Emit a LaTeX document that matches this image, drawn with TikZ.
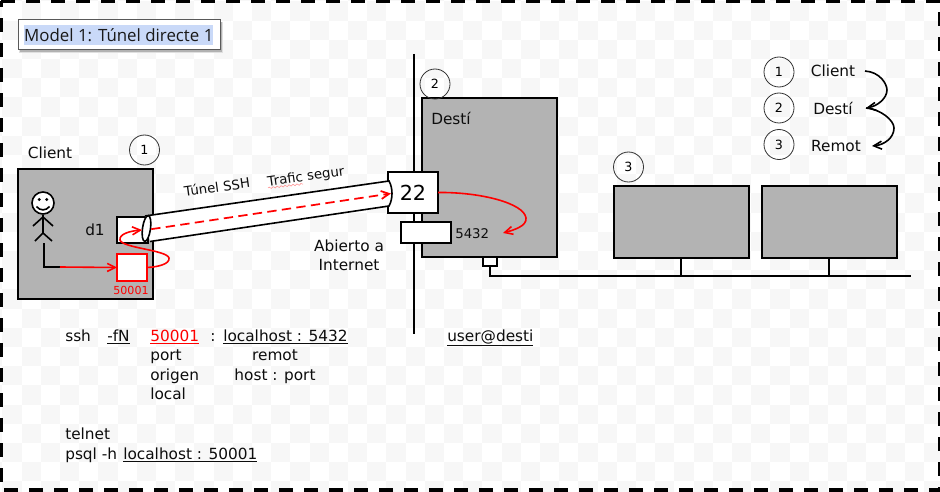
\documentclass[tikz,border=0pt]{standalone}
\usepackage{fontspec}
\setmainfont{DejaVu Sans}
\newfontfamily\titlefont{Open Sans}
\usetikzlibrary{arrows.meta,decorations.pathmorphing,shapes.geometric,shadows}
\definecolor{boxgrey}{HTML}{B3B3B3}
\definecolor{checker}{HTML}{F7F7F7}
\definecolor{hilite}{HTML}{C9D9F8}
\tikzset{
  x=0.75pt,y=-0.75pt,
  box/.style={draw=black,line width=1.2pt,fill=boxgrey,inner sep=0pt,outer sep=0pt},
  wbox/.style={draw=black,line width=1.2pt,fill=white,inner sep=0pt,outer sep=0pt},
  lab/.style={inner sep=0pt,font=\fontsize{11.5}{13}\selectfont,text=black!95},
  cmd/.style={lab,anchor=base west},
  small/.style={lab,font=\fontsize{8.3}{10}\selectfont},
  num/.style={draw=black!80,circle,line width=0.6pt,minimum size=22.5pt,inner sep=0pt,font=\fontsize{9.5}{11}\selectfont},
  wire/.style={draw=black,line width=1.2pt},
  redflow/.style={draw=red,line width=1.2pt,-{Straight Barb[length=6pt,width=6pt]}},
  blackflow/.style={draw=black,line width=1.2pt,-{Straight Barb[length=6pt,width=6pt]}},
}
\begin{document}
\begin{tikzpicture}
\useasboundingbox (0,0) rectangle (940,492);
\fill[white] (0,0) rectangle (940,492);
% faint checker pattern of the source canvas
\begin{scope}
\clip (0,0) rectangle (940,492);
\foreach \i in {0,...,49}{\foreach \j in {0,...,26}{
  \pgfmathtruncatemacro{\k}{mod(\i+\j,2)}
  \ifnum\k=1
    \fill[checker] ({2.3+19.2*(\i-1)},{1.4+19.2*(\j-1)}) rectangle ++(19.2,19.2);
  \fi}}
% page frame
\draw[black,line width=3pt,dash pattern=on 10.5pt off 8.25pt] (1,1) -- (940,1) -- (940,490) -- (1,490) -- cycle;
\end{scope}

% title
\fill[black!12] (19,22) rectangle (223,53);
\fill[black!30] (20,22) rectangle (222,52);
\node[draw=black!65,line width=0.75pt,fill=white,minimum width=151.5pt,minimum height=22.5pt,inner sep=0pt] (title) at (119,35) {};
\node[fill=hilite,inner sep=0pt,minimum width=140.5pt,minimum height=15pt,font=\titlefont\fontsize{12.65}{14}\selectfont,text=black!90] (titletext) at (118.8,35) {Model 1: Túnel directe 1};

% vertical line
\coordinate (fwtop) at (414,54);
\coordinate (fwbot) at (414,334);
\draw[wire] (fwtop) -- (fwbot);

% client
\node[box,minimum width=101.25pt,minimum height=97.5pt] (client) at (85.5,234) {};
\node[lab] (clientlab) at (50,153) {Client};
\node[num] (n1) at (144.5,150) {1};
\node[lab] (d1lab) at (95,229.5) {d1};
\node[wbox,minimum width=23.25pt,minimum height=19.5pt] (d1) at (132.5,230) {};
\node[draw=red,fill=white,line width=1.2pt,inner sep=0pt,outer sep=0pt,minimum width=22.5pt,minimum height=20.25pt] (local) at (132,267.5) {};
\node[small,text=red] (locallab) at (131,290) {50001};

% stick figure
\node[draw=black,circle,line width=1.2pt,fill=white,minimum size=16.5pt,inner sep=0pt] (head) at (43,203) {};
\fill[black] (39.2,199.5) circle (1.6) (46.8,199.5) circle (1.6);
\draw[wire] (36.5,206.5) .. controls (40,211) and (46,211) .. (49.5,206.5);
\coordinate (hip) at (43,233);
\draw[wire] (head.south) -- (hip);
\draw[wire] (33,226) -- (43,217) -- (53,226);
\draw[wire] (35,241) -- (hip) -- (52,241);
\coordinate (feet) at (44,243);
\coordinate (elbow) at (44,267);
\coordinate (turn) at (60,267);
\draw[wire] (feet) -- (elbow) -- (turn);
\draw[redflow] (turn) -- (local.west);

% destination
\node[box,minimum width=101.25pt,minimum height=119.25pt] (desti) at (489.5,177.5) {};
\node[lab] (destilab) at (451,118) {Destí};
\node[num] (n2) at (435,84) {2};
\node[wbox,minimum width=37.5pt,minimum height=30.75pt,font=\fontsize{15.5}{17}\selectfont] (p22) at (413,192.5) {22};
\node[wbox,minimum width=37.5pt,minimum height=15.75pt] (p5432) at (426,232.5) {};
\node[small,anchor=west,font=\fontsize{10}{11}\selectfont] (p5432lab) at (455,233.5) {5432};
\node[wbox,minimum width=10.5pt,minimum height=6.75pt] (port) at (490,261.5) {};

% tunnel
\coordinate (tulA) at (145,216);
\coordinate (tulB) at (150,241.5);
\coordinate (turA) at (389,181);
\coordinate (turB) at (389,206);
\fill[white] (tulA) -- (turA) .. controls (393,188) and (393,199) .. (turB) -- (tulB) -- cycle;
\draw[wire] (tulA) -- (turA) .. controls (393,188) and (393,199) .. (turB) -- (tulB);
\node[draw=black,line width=1.2pt,fill=white,ellipse,rotate=-8,minimum width=6pt,minimum height=19.5pt,inner sep=0pt] (mouth) at (146.5,228.5) {};
\coordinate (dashend) at (391,193.5);
\draw[draw=red,line width=1.3pt,dash pattern=on 7pt off 4pt,-{Straight Barb[length=6pt,width=6pt]}] (mouth.east) -- (dashend);

% red loop from local port into the tunnel
\coordinate (loopend) at (142,230);
\draw[redflow] (local.east) .. controls (158,267) and (170,264) .. (169,258) .. controls (167,250) and (122,248) .. (120,240) .. controls (119,234) and (130,231) .. (loopend);

% red 22 -> 5432
\coordinate (curveend) at (503,233);
\draw[redflow] (p22.east) .. controls (480,192) and (524,203) .. (526,218) .. controls (527,226) and (514,230) .. (curveend);

% tunnel labels
\node[lab,rotate=8,font=\fontsize{10}{11}\selectfont] (tunlab) at (217,187) {Túnel SSH};
\node[lab,rotate=8,font=\fontsize{10}{11}\selectfont] (trafic) at (306,177) {Trafic segur};
\coordinate (sqA) at (268,188);
\coordinate (sqB) at (303,184);
\draw[red!45,line width=0.4pt,decorate,decoration={snake,amplitude=0.6pt,segment length=3pt}] (sqA) -- (sqB);
\node[lab,align=center,font=\fontsize{11.5}{14.3}\selectfont] (open) at (349,255.5) {Abierto a\\Internet};

% remote hosts
\node[box,minimum width=101.25pt,minimum height=54pt] (r1) at (681.5,222) {};
\node[box,minimum width=101.25pt,minimum height=54pt] (r2) at (829.5,222) {};
\node[num] (n3) at (628.5,167) {3};
\coordinate (busend) at (911,276);
\coordinate (busstart) at (490,276);
\draw[wire] (port.south) -- (busstart) -- (busend);
\draw[wire] ([xshift=-0.4pt]r1.south) -- ([xshift=-0.4pt]r1.south |- busend);
\draw[wire] ([xshift=-0.4pt]r2.south) -- ([xshift=-0.4pt]r2.south |- busend);

% legend
\node[num] (l1) at (779,72) {1};
\node[num] (l2) at (779,108) {2};
\node[num] (l3) at (779,144.5) {3};
\node[lab] (lc) at (833,71) {Client};
\node[lab] (ld) at (833,108) {Destí};
\node[lab] (lr) at (836,146) {Remot};
\coordinate (a1s) at (865,71);
\coordinate (a1e) at (866,108);
\coordinate (a2e) at (872,146);
\draw[blackflow] (a1s) .. controls (880,72) and (887,84) .. (887,90) .. controls (887,98) and (878,106) .. (a1e);
\draw[blackflow] (a1e) .. controls (880,109) and (894,120) .. (894,128) .. controls (894,138) and (884,145) .. (a2e);

% commands
\node[cmd] (ssh) at (65,341) {ssh};
\node[cmd] (fn) at (107,341) {\underline{-fN}};
\node[cmd,text=red] (pl) at (150,341) {\underline{50001}};
\node[cmd] (colon) at (210,341) {:};
\node[cmd] (rem) at (223,341) {\underline{localhost : 5432}};
\node[cmd] (user) at (447,341) {\underline{user@desti}};
\node[cmd] (port1) at (150,360) {port};
\node[cmd] (port2) at (150,380) {origen};
\node[cmd] (port3) at (150,399) {local};
\node[cmd,anchor=base] (remot) at (275,360) {remot};
\node[cmd,anchor=base] (hostport) at (275,380) {host : port};
\node[cmd] (tel) at (65,439) {telnet};
\node[cmd] (psql) at (65,459) {psql -h};
\node[cmd] (lh) at (123,459) {\underline{localhost : 50001}};
\end{tikzpicture}
\end{document}
